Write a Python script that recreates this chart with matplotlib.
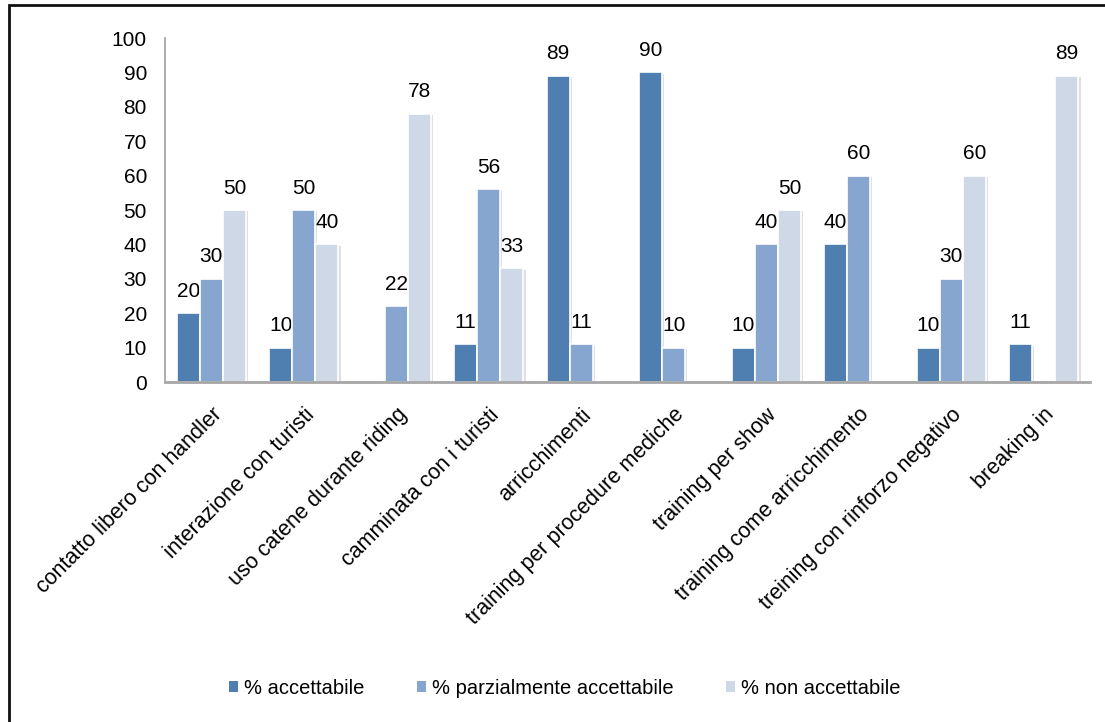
import numpy as np
import matplotlib
matplotlib.use("Agg")
import matplotlib.pyplot as plt
import matplotlib.patheffects as pe
from matplotlib.patches import Rectangle

plt.rcParams["font.family"] = ["Liberation Sans", "DejaVu Sans"]

categories = [
    "contatto libero con handler",
    "interazione con turisti",
    "uso catene durante riding",
    "camminata con i turisti",
    "arricchimenti",
    "training per procedure mediche",
    "training per show",
    "training come arricchimento",
    "treining con rinforzo negativo",
    "breaking in",
]
accettabile = [20, 10, 0, 11, 89, 90, 10, 40, 10, 11]
parziale = [30, 50, 22, 56, 11, 10, 40, 60, 30, 0]
non_accettabile = [50, 40, 78, 33, 0, 0, 50, 0, 60, 89]

series = [
    ("% accettabile", accettabile, "#4F7FB1"),
    ("% parzialmente accettabile", parziale, "#86A6CF"),
    ("% non accettabile", non_accettabile, "#CED8E6"),
]

fig = plt.figure(figsize=(11.05, 7.22), dpi=100)
ax = fig.add_axes([165 / 1105, 1 - 382 / 722, 925 / 1105, 344 / 722])

x = np.arange(len(categories))
width = 0.25
# soft drop shadow on the right side of each bar
shadow = [pe.SimplePatchShadow(offset=(1.5, -1), shadow_rgbFace="#BBBBBB", alpha=0.45), pe.Normal()]

for i, (name, vals, color) in enumerate(series):
    pos = x + (i - 1) * width
    bars = ax.bar(pos, vals, width, color=color, edgecolor="white", linewidth=1.2,
                  label=name, zorder=3)
    for b, v in zip(bars, vals):
        if v > 0:
            b.set_path_effects(shadow)
            ax.annotate(str(v), (b.get_x() + b.get_width() / 2, v),
                        xytext=(0, 9), textcoords="offset points",
                        ha="center", va="bottom", fontsize=15, color="black")

ax.set_xlim(-0.5, len(categories) - 0.5)
ax.set_ylim(0, 100)
ax.set_yticks(range(0, 101, 10))
ax.set_xticks(x)
ax.set_xticklabels(categories, rotation=45, ha="right", rotation_mode="anchor",
                   fontsize=15.5)
ax.tick_params(axis="y", length=0, labelsize=15, pad=13)
ax.tick_params(axis="x", length=0, pad=16)

for s in ["top", "right"]:
    ax.spines[s].set_visible(False)
ax.spines["left"].set_color("#A0A0A0")
ax.spines["left"].set_linewidth(1.2)
ax.spines["bottom"].set_color("#A6A6A6")
ax.spines["bottom"].set_linewidth(2)
ax.spines["bottom"].set_zorder(4)

leg = fig.legend(loc="center", bbox_to_anchor=(565 / 1105, 1 - 688 / 722), ncol=3,
                 frameon=False, fontsize=14.5, handlelength=0.45, handleheight=0.45,
                 handletextpad=0.3, columnspacing=2.6)
for h in leg.legend_handles:
    h.set_path_effects([])
    h.set_edgecolor("none")

# outer frame of the chart area, only top and left edges fall inside the image
fig.patches.append(Rectangle((9 / 1105, -0.05), 1.2, 1 - 5 / 722 + 0.05,
                             transform=fig.transFigure, fill=False,
                             edgecolor="#111111", linewidth=2))

fig.savefig("out.png", dpi=100)
